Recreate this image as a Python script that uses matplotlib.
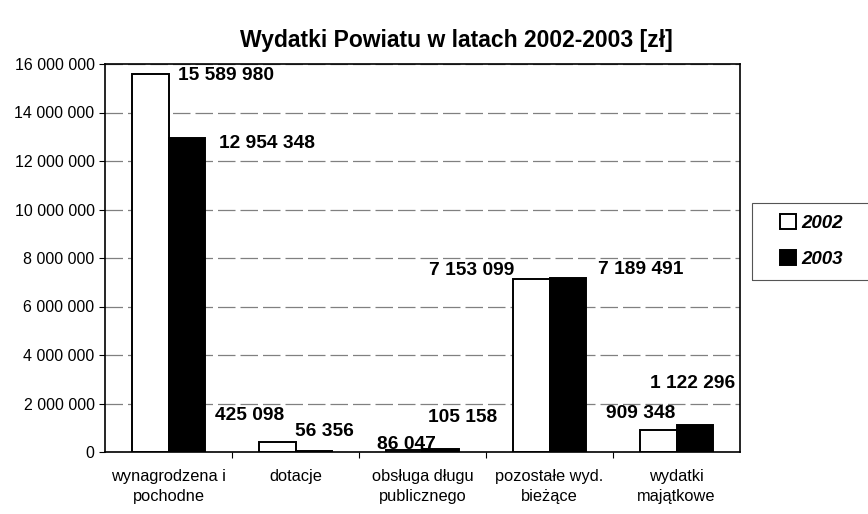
import numpy as np
import matplotlib
matplotlib.use('Agg')
import matplotlib.pyplot as plt
from matplotlib.ticker import FuncFormatter
from matplotlib.patches import Rectangle

plt.rcParams['font.family'] = ['Liberation Sans', 'DejaVu Sans']

# dane
kategorie = ['wynagrodzena i\npochodne', 'dotacje', 'obsługa długu\npublicznego',
             'pozostałe wyd.\nbieżące', 'wydatki\nmajątkowe']
wyd_2002 = [15589980, 425098, 86047, 7153099, 909348]
wyd_2003 = [12954348, 56356, 105158, 7189491, 1122296]
lata = ['2002', '2003']

# przesunięcia etykiet (piksele) względem szczytu słupka
off_2002 = [(28, -2), (-62, 26), (-27, 5), (-102, 8), (-52, 16)]
off_2003 = [(32, -6), (-19, 19), (-13, 32), (30, 8), (-45, 41)]

def fmt(v):
    return f'{int(v):,}'.replace(',', ' ')

fig = plt.figure(figsize=(8.68, 5.14), dpi=100)
ax = fig.add_axes([105/868, 1-452/514, 635/868, 388/514])

x = np.arange(len(kategorie))
w = 0.29
b1 = ax.bar(x - w/2, wyd_2002, w, color='white', edgecolor='black', linewidth=1.4, label=lata[0], zorder=3)
b2 = ax.bar(x + w/2, wyd_2003, w, color='black', edgecolor='black', linewidth=1.4, label=lata[1], zorder=3)

for xi, v, o in zip(x - w/2, wyd_2002, off_2002):
    ax.annotate(fmt(v), (xi, v), xytext=o, textcoords='offset pixels',
                ha='left', va='center', fontsize=13.8, fontweight='bold', annotation_clip=False)
for xi, v, o in zip(x + w/2, wyd_2003, off_2003):
    ax.annotate(fmt(v), (xi, v), xytext=o, textcoords='offset pixels',
                ha='left', va='center', fontsize=13.8, fontweight='bold', annotation_clip=False)

ax.set_xlim(-0.5, len(kategorie) - 0.5)
ax.set_ylim(0, 16000000)
ax.set_yticks(np.arange(0, 16000001, 2000000))
ax.yaxis.set_major_formatter(FuncFormatter(lambda v, p: fmt(v)))
ax.tick_params(axis='y', labelsize=11.5, length=4, direction='out')

# kategorie jako tekst pod osią, znaczniki między grupami
ax.set_xticks(np.arange(0.5, len(kategorie) - 0.5, 1))
ax.set_xticklabels([])
ax.tick_params(axis='x', length=4, direction='out')
for xi, k in zip(x, kategorie):
    ax.text(xi, -0.045, k, transform=ax.get_xaxis_transform(), ha='center', va='top',
            fontsize=11.8, linespacing=1.4)

ax.grid(axis='y', color='#808080', linewidth=0.9, linestyle=(0, (14, 4)), zorder=0)
for s in ax.spines.values():
    s.set_color('black')
    s.set_linewidth(1.2)

fig.text(456/868, 1-40/514, 'Wydatki Powiatu w latach 2002-2003 [zł]', ha='center', va='center',
         fontsize=16.5, fontweight='bold')

# ramka legendy wychodzi poza prawą krawędź
fig.patches.append(Rectangle((752/868, 1-280/514), 130/868, 77/514, transform=fig.transFigure,
                             fill=False, edgecolor='#555555', linewidth=0.8))
leg = fig.legend(handles=[b1, b2], labels=lata, loc='center left',
                 bbox_to_anchor=(780/868, 1-241/514), frameon=False, borderaxespad=0,
                 handlelength=0.85, handleheight=0.85, handletextpad=0.3,
                 labelspacing=0.95, borderpad=0, prop={'weight': 'bold', 'style': 'italic', 'size': 13.5})

fig.savefig('out.png', dpi=100, facecolor='white')
